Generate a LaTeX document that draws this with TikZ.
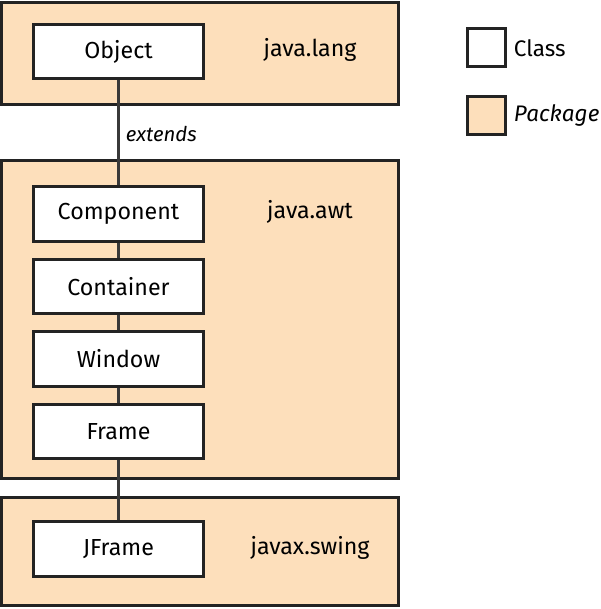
\documentclass[tikz,border=0pt]{standalone}
\usepackage{fontspec}
\setmainfont{Fira Sans}
\usepackage{xcolor}
\definecolor{peach}{RGB}{253,223,187}
\definecolor{darkline}{RGB}{35,35,35}

\tikzset{
  package/.style={rectangle, draw=darkline, line width=2.2pt, fill=peach, inner sep=0pt},
  classbox/.style={rectangle, draw=darkline, line width=2.2pt, fill=white, minimum width=4.27cm, minimum height=1.37cm, font=\fontsize{16.5}{19}\selectfont},
  pkglabel/.style={font=\fontsize{16.5}{19}\selectfont},
  extends/.style={draw=darkline!90, line width=2.2pt}
}

\begin{document}
\begin{tikzpicture}[x=0.025cm, y=-0.025cm]
            \useasboundingbox (0,0) rectangle (600,609);

            % Packages
            \node[package, minimum width=9.9cm, minimum height=2.57cm] (lang) at (200,53.5) {};
            \node[package, minimum width=9.9cm, minimum height=7.94cm] (awt) at (200,319.3) {};
            \node[package, minimum width=9.9cm, minimum height=2.69cm] (swing) at (200,551.3) {};

            % Package names
            \node[pkglabel] (langname) at (310,50) {java.lang};
            \node[pkglabel] (awtname) at (310,212) {java.awt};
            \node[pkglabel] (swingname) at (310,548) {javax.swing};

            % Classes
            \node[classbox] (object) at (118.5,51.5) {Object};
            \node[classbox] (component) at (118.5,214) {Component};
            \node[classbox] (container) at (118.5,286.5) {Container};
            \node[classbox] (window) at (118.5,359) {Window};
            \node[classbox] (frame) at (118.5,431.5) {Frame};
            \node[classbox] (jframe) at (118.5,549) {JFrame};

            % Inheritance lines
            \draw[extends] (object.south) -- (component.north);
            \draw[extends] (component.south) -- (container.north);
            \draw[extends] (container.south) -- (window.north);
            \draw[extends] (window.south) -- (frame.north);
            \draw[extends] (frame.south) -- (jframe.north);
            \node[anchor=west, font=\fontsize{14.5}{17}\selectfont\itshape] (extlabel) at (121,134) {extends};

            % Legend
            \node[classbox, minimum width=0.95cm, minimum height=0.95cm] (classkey) at (486.3,47.8) {};
            \node[anchor=west, font=\fontsize{16}{19}\selectfont] (classtext) at (509,48) {Class};
            \node[package, minimum width=0.95cm, minimum height=0.95cm] (packagekey) at (486.3,115.3) {};
            \node[anchor=west, font=\fontsize{16}{19}\selectfont\itshape] (packagetext) at (509,115) {Package};
        \end{tikzpicture}
\end{document}
